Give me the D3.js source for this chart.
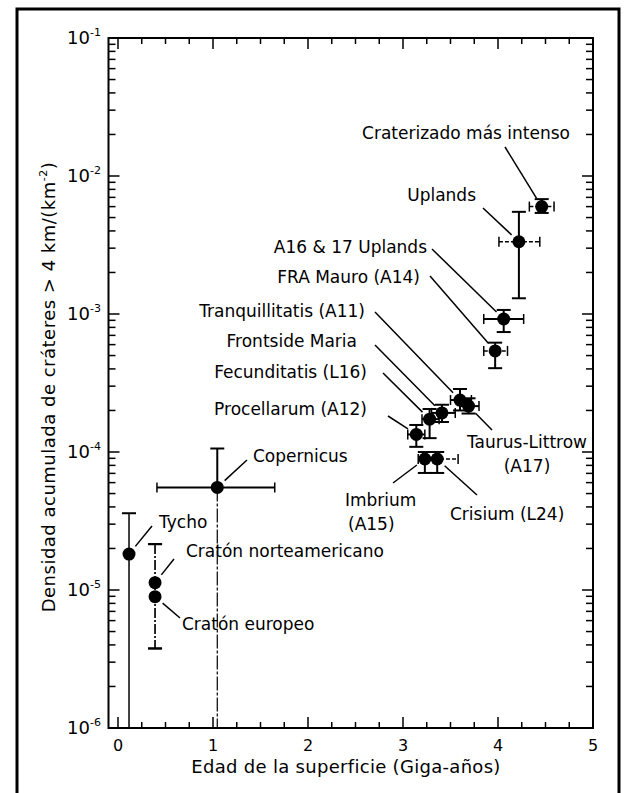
<!DOCTYPE html>
<html>
<head>
<meta charset="utf-8">
<script src="https://cdn.jsdelivr.net/npm/d3@7"></script>
<style>
  html, body { margin: 0; padding: 0; background: #fff; }
  svg { display: block; }
  text { font-family: "DejaVu Sans", sans-serif; fill: #000; }
</style>
</head>
<body>
<script>
// ---------- data ----------
const categories = [
  "Craterizado más intenso", "Uplands", "A16 & 17 Uplands", "FRA Mauro (A14)",
  "Tranquillitatis (A11)", "Taurus-Littrow (A17)", "Frontside Maria", "Fecunditatis (L16)",
  "Procellarum (A12)", "Imbrium (A15)", "Crisium (L24)", "Copernicus", "Tycho",
  "Cratón norteamericano", "Cratón europeo"
];
const ageGyr   = [4.46, 4.22, 4.06, 3.97, 3.60, 3.69, 3.41, 3.28, 3.14, 3.23, 3.36, 1.045, 0.116, 0.39, 0.39];
const density  = [6.0e-3, 3.34e-3, 9.2e-4, 5.4e-4, 2.38e-4, 2.15e-4, 1.92e-4, 1.73e-4, 1.34e-4, 8.9e-5, 8.9e-5, 5.54e-5, 1.82e-5, 1.13e-5, 8.95e-6];
const ageLo    = [4.33, 4.01, 3.85, 3.85, 3.50, 3.60, 3.30, 3.20, 3.05, 3.16, 3.20, 0.41, null, null, null];
const ageHi    = [4.59, 4.44, 4.27, 4.10, 3.72, 3.80, 3.55, 3.38, 3.23, 3.32, 3.58, 1.65, null, null, null];
const densLo   = [5.4e-3, 1.3e-3, 7.4e-4, 4.05e-4, 2.0e-4, 1.9e-4, 1.65e-4, 1.26e-4, 1.09e-4, 7.05e-5, 7.05e-5, 1e-6, 1e-6, 3.77e-6, 3.77e-6];
const densHi   = [6.8e-3, 5.5e-3, 1.07e-3, 6.2e-4, 2.86e-4, 2.45e-4, 2.2e-4, 2.05e-4, 1.57e-4, 1.0e-4, 1.0e-4, 1.06e-4, 3.6e-5, 2.15e-5, 2.15e-5];
const xTickLabels = ["0", "1", "2", "3", "4", "5"];
const yTickExponents = ["-1", "-2", "-3", "-4", "-5", "-6"];

// ---------- layout (annotation placement, px) ----------
const labelLayout = {
  "Craterizado más intenso": {lines: ["Craterizado más intenso"], x: 570, y: 139, anchor: "end", lx: 505, ly: 147},
  "Uplands": {lines: ["Uplands"], x: 476, y: 201, anchor: "end", lx: 483, ly: 208},
  "A16 & 17 Uplands": {lines: ["A16 & 17 Uplands"], x: 427, y: 253, anchor: "end", lx: 432, ly: 249},
  "FRA Mauro (A14)": {lines: ["FRA Mauro (A14)"], x: 420, y: 283, anchor: "end", lx: 430, ly: 276},
  "Tranquillitatis (A11)": {lines: ["Tranquillitatis (A11)"], x: 365, y: 317, anchor: "end", lx: 375, ly: 312},
  "Frontside Maria": {lines: ["Frontside Maria"], x: 357, y: 347, anchor: "end", lx: 375, ly: 345},
  "Fecunditatis (L16)": {lines: ["Fecunditatis (L16)"], x: 367, y: 378, anchor: "end", lx: 383, ly: 373},
  "Procellarum (A12)": {lines: ["Procellarum (A12)"], x: 367, y: 415, anchor: "end", lx: 388, ly: 416},
  "Copernicus": {lines: ["Copernicus"], x: 253, y: 462, anchor: "start", lx: 247, ly: 460},
  "Tycho": {lines: ["Tycho"], x: 159, y: 528, anchor: "start", lx: 152, ly: 526},
  "Cratón norteamericano": {lines: ["Cratón norteamericano"], x: 186, y: 557, anchor: "start", lx: 174, ly: 559},
  "Cratón europeo": {lines: ["Cratón europeo"], x: 182, y: 630, anchor: "start", lx: 180, ly: 618},
  "Taurus-Littrow (A17)": {lines: ["Taurus-Littrow", "(A17)"], x: 527, y: 448, anchor: "middle", lx: 492, ly: 430},
  "Imbrium (A15)": {lines: ["Imbrium", "(A15)"], x: 345, y: 506, anchor: "start", lx: 393, ly: 483, dx2: 3},
  "Crisium (L24)": {lines: ["Crisium (L24)"], x: 450, y: 520, anchor: "start", lx: 477, ly: 495}
};
const dashedVertical = {"Copernicus": true, "Cratón norteamericano": true, "Cratón europeo": true};
const dashedHorizontal = {"Craterizado más intenso": true, "Uplands": true, "FRA Mauro (A14)": true, "Crisium (L24)": true};

const W = 625, H = 793;
const plot = {left: 108.5, right: 593, top: 38, bottom: 728};

const svg = d3.select("body").append("svg").attr("width", W).attr("height", H);

// outer frame
svg.append("path")
  .attr("d", `M17,${H + 5} V9 H619 V${H + 5}`)
  .attr("fill", "none").attr("stroke", "#000").attr("stroke-width", 3);

const x = d3.scaleLinear().domain([-0.1, 5]).range([plot.left, plot.right]);
const y = d3.scaleLog().domain([1e-6, 1e-1]).range([plot.bottom, plot.top]);

// plot box
svg.append("rect")
  .attr("x", plot.left).attr("y", plot.top)
  .attr("width", plot.right - plot.left).attr("height", plot.bottom - plot.top)
  .attr("fill", "none").attr("stroke", "#000").attr("stroke-width", 2);

// ticks
const xMinor = d3.range(0, 5.001, 0.25).filter(v => Math.abs(v - Math.round(v)) > 1e-6);
const xMajor = d3.range(0, 5.001, 1);
const yMajor = [1e-6, 1e-5, 1e-4, 1e-3, 1e-2, 1e-1];
const yMinor = [];
for (let e = -6; e < -1; e++) for (let m = 2; m <= 9; m++) yMinor.push(m * Math.pow(10, e));

const tickG = svg.append("g").attr("stroke", "#000").attr("stroke-width", 1.5);
function xTicks(vals, len) {
  vals.forEach(v => {
    if (v >= 5) return;
    tickG.append("line").attr("x1", x(v)).attr("x2", x(v)).attr("y1", plot.bottom).attr("y2", plot.bottom - len);
    tickG.append("line").attr("x1", x(v)).attr("x2", x(v)).attr("y1", plot.top).attr("y2", plot.top + len);
  });
}
xTicks(xMajor, 11); xTicks(xMinor, 6);
function yTicks(vals, len) {
  vals.forEach(v => {
    tickG.append("line").attr("y1", y(v)).attr("y2", y(v)).attr("x1", plot.left).attr("x2", plot.left + len);
    tickG.append("line").attr("y1", y(v)).attr("y2", y(v)).attr("x1", plot.right).attr("x2", plot.right - len);
  });
}
yTicks(yMajor, 11); yTicks(yMinor, 7);

// x tick labels
svg.append("g").selectAll("text").data(xTickLabels).join("text")
  .attr("x", (d, i) => x(i)).attr("y", 751)
  .attr("text-anchor", "middle").attr("font-size", 16)
  .text(d => d);

// y tick labels
const yl = svg.append("g").selectAll("text").data(yTickExponents).join("text")
  .attr("x", 67).attr("y", (d, i) => y(Math.pow(10, -1 - i)) + 6)
  .attr("font-size", 18);
yl.append("tspan").text("10");
yl.append("tspan").attr("font-size", 11).attr("dy", -8).text(d => d);

// axis titles
svg.append("text").attr("x", 346).attr("y", 773).attr("text-anchor", "middle")
  .attr("font-size", 18).attr("letter-spacing", 0.3).text("Edad de la superficie (Giga-años)");
const yt = svg.append("text").attr("transform", "translate(55,387) rotate(-90)")
  .attr("text-anchor", "middle").attr("font-size", 18).attr("letter-spacing", 0.5);
yt.append("tspan").text("Densidad acumulada de cráteres > 4 km/(km");
yt.append("tspan").attr("font-size", 11).attr("dy", -8).text("-2");
yt.append("tspan").attr("dy", 8).text(")");

// data
const data = categories.map((c, i) => ({
  name: c, x: ageGyr[i], y: density[i],
  xLo: ageLo[i], xHi: ageHi[i], yLo: densLo[i], yHi: densHi[i]
}));

// error bars
const eb = svg.append("g").attr("stroke", "#000").attr("fill", "none");
data.forEach(d => {
  const cx = x(d.x), cy = y(d.y);
  if (d.yLo != null) {
    const y1 = y(d.yHi), y2 = y(d.yLo);
    if (d.name === "Copernicus") {
      eb.append("line").attr("x1", cx).attr("x2", cx).attr("y1", y1).attr("y2", cy).attr("stroke-width", 2);
      eb.append("line").attr("x1", cx).attr("x2", cx).attr("y1", cy).attr("y2", y2)
        .attr("stroke-width", 1.2).attr("stroke-dasharray", "14,2,3,2");
    } else {
      eb.append("line").attr("x1", cx).attr("x2", cx).attr("y1", y1).attr("y2", y2)
        .attr("stroke-width", dashedVertical[d.name] ? 1.2 : (d.name === "Tycho" ? 1.5 : 2))
        .attr("stroke-dasharray", dashedVertical[d.name] ? "10,2,2,2" : null);
    }
    eb.append("line").attr("x1", cx - 7).attr("x2", cx + 7).attr("y1", y1).attr("y2", y1).attr("stroke-width", 2);
    if (d.yLo > 1e-6) eb.append("line").attr("x1", cx - 7).attr("x2", cx + 7).attr("y1", y2).attr("y2", y2).attr("stroke-width", 2);
  }
  if (d.xLo != null) {
    const x1 = x(d.xLo), x2 = x(d.xHi);
    eb.append("line").attr("x1", x1).attr("x2", x2).attr("y1", cy).attr("y2", cy)
      .attr("stroke-width", dashedHorizontal[d.name] ? 1.5 : 2)
      .attr("stroke-dasharray", dashedHorizontal[d.name] ? "4,2" : null);
    [x1, x2].forEach(xx => eb.append("line").attr("x1", xx).attr("x2", xx)
      .attr("y1", cy - 5).attr("y2", cy + 5).attr("stroke-width", 1.5));
  }
});

// markers
svg.append("g").selectAll("circle").data(data).join("circle")
  .attr("cx", d => x(d.x)).attr("cy", d => y(d.y)).attr("r", 6.5).attr("fill", "#000");

// labels + leader lines
const lab = svg.append("g");
data.forEach(d => {
  const L = labelLayout[d.name];
  const cx = x(d.x), cy = y(d.y);
  const dx = L.lx - cx, dy = L.ly - cy, dist = Math.hypot(dx, dy), gap = 10;
  lab.append("line").attr("x1", L.lx).attr("y1", L.ly)
    .attr("x2", cx + dx / dist * gap).attr("y2", cy + dy / dist * gap)
    .attr("stroke", "#000").attr("stroke-width", 1.5);
  L.lines.forEach((t, k) => {
    lab.append("text").attr("x", L.x + (k > 0 && L.dx2 ? L.dx2 : 0)).attr("y", L.y + k * 24)
      .attr("text-anchor", L.anchor).attr("font-size", 17).text(t);
  });
});
</script>
</body>
</html>
